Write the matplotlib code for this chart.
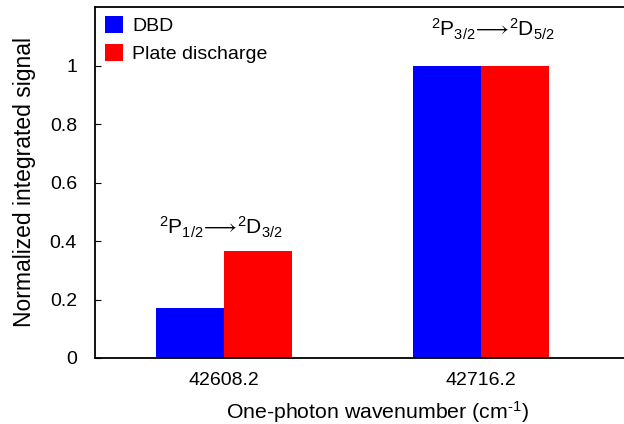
import matplotlib
matplotlib.use("Agg")
import matplotlib.pyplot as plt
import numpy as np

categories = ["42608.2", "42716.2"]
series_names = ["DBD", "Plate discharge"]
dbd = [0.17, 1.0]
plate = [0.367, 1.0]
annotations = [r"$^{2}\mathrm{P}_{1/2}\!\longrightarrow\!{}^{2}\mathrm{D}_{3/2}$",
               r"$^{2}\mathrm{P}_{3/2}\!\longrightarrow\!{}^{2}\mathrm{D}_{5/2}$"]
yticks = [0, 0.2, 0.4, 0.6, 0.8, 1]
yticklabels = ["0", "0.2", "0.4", "0.6", "0.8", "1"]

plt.rcParams['font.family'] = ['Liberation Sans', 'DejaVu Sans']
plt.rcParams['mathtext.fontset'] = 'custom'
plt.rcParams['mathtext.rm'] = 'Liberation Sans'
plt.rcParams['mathtext.it'] = 'Liberation Sans:italic'
plt.rcParams['mathtext.bf'] = 'Liberation Sans:bold'
plt.rcParams['mathtext.fallback'] = 'stixsans'

W, H = 624, 424
fig = plt.figure(figsize=(W/100, H/100), dpi=100)
left, right, top, bottom = 95, 660, 6.5, 358
ax = fig.add_axes([left/W, 1-bottom/H, (right-left)/W, (bottom-top)/H])

x = np.arange(len(categories))
bw = 0.265
ax.bar(x - bw/2, dbd, bw, color="#0000ff", label=series_names[0], edgecolor='none')
ax.bar(x + bw/2, plate, bw, color="#ff0000", label=series_names[1], edgecolor='none')

xmin = -0.502
xmax = xmin + (right-left)/257.0
ax.set_xlim(xmin, xmax)
ax.set_ylim(0, 1.202)
ax.set_xticks(x)
ax.set_xticklabels(categories, fontsize=14)
ax.tick_params(axis='x', length=0, pad=10)
ax.set_yticks(yticks)
ax.set_yticklabels(yticklabels, fontsize=14)
ax.tick_params(axis='y', direction='in', length=4, pad=13)
for s in ax.spines.values():
    s.set_linewidth(1.3)

ax.set_ylabel("Normalized integrated signal", fontsize=16.5, labelpad=10)
ax.set_xlabel(r"One-photon wavenumber (cm$^{\text{-1}}$)", fontsize=15.3, labelpad=7)

ann_x = [-0.014, 1.047]
ann_y = [0.421, 1.099]
for xi, yi, t in zip(ann_x, ann_y, annotations):
    ax.text(xi, yi, t, ha='center', va='baseline', fontsize=15)

leg = ax.legend(loc='upper left', frameon=False, fontsize=14, handlelength=0.95,
                handleheight=0.95, handletextpad=0.45, borderaxespad=0.1,
                labelspacing=0.45, bbox_to_anchor=(0.0, 1.0))

fig.savefig("out.png", dpi=100)
